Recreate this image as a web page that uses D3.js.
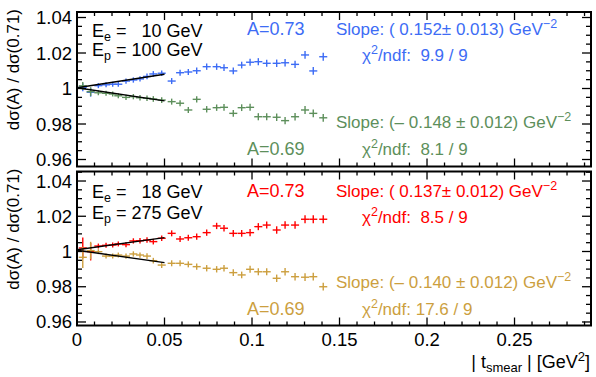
<!DOCTYPE html>
<html><head><meta charset="utf-8">
<script src="https://cdn.jsdelivr.net/npm/d3@7"></script>
<style>
body{margin:0;background:#fff;}
svg{display:block;font-family:"Liberation Sans",Arial,sans-serif;}
text{white-space:pre;}
</style></head>
<body><svg id="c" width="596" height="377"></svg>
<script>
// ---- data ----
const tBins = [0.0033,0.0078,0.0122,0.0166,0.0204,0.0236,0.0280,0.0322,0.0360,0.0400,0.0436,0.0484,0.0541,0.0589,0.0636,0.0684,0.0741,0.0798,0.0840,0.0893,0.0941,0.0989,0.1036,0.1084,0.1141,0.1189,0.1246,0.1303,0.1350,0.1407];
const tErr = 0.0023;
const blueVals  = [1.0007,0.9979,1.0016,1.0021,1.0024,1.0024,1.0042,1.0048,1.0054,1.0068,1.0082,1.0086,1.0042,1.0089,1.0093,1.0100,1.0123,1.0123,1.0117,1.0099,1.0132,1.0148,1.0151,1.0142,1.0142,1.0145,1.0136,1.0189,1.0099,1.0179];
const blueErrs  = [0.0022,0.0025,0.0014,0.0014,0.0014,0.0014,0.0015,0.0015,0.0015,0.0016,0.0016,0.0016,0.0017,0.0017,0.0017,0.0018,0.0018,0.0018,0.0019,0.0019,0.0019,0.0020,0.0020,0.0020,0.0021,0.0021,0.0021,0.0022,0.0022,0.0022];
const greenVals = [1.0015,0.9982,0.9976,0.9973,0.9969,0.9959,0.9950,0.9954,0.9948,0.9945,0.9941,0.9935,0.9926,0.9917,0.9879,0.9939,0.9883,0.9892,0.9894,0.9860,0.9892,0.9894,0.9841,0.9841,0.9838,0.9819,0.9841,0.9879,0.9860,0.9835];
const greenErrs = blueErrs;
const redVals   = [1.0020,0.9999,1.0031,1.0035,1.0037,1.0043,1.0039,1.0060,1.0061,1.0065,1.0056,1.0075,1.0103,1.0071,1.0078,1.0084,1.0107,1.0145,1.0132,1.0103,1.0103,1.0107,1.0141,1.0150,1.0122,1.0150,1.0150,1.0183,1.0183,1.0183];
const redErrs   = [0.0060,0.0050,0.0014,0.0014,0.0014,0.0014,0.0015,0.0015,0.0015,0.0016,0.0016,0.0016,0.0017,0.0017,0.0017,0.0018,0.0018,0.0018,0.0019,0.0019,0.0019,0.0020,0.0020,0.0020,0.0021,0.0021,0.0021,0.0022,0.0022,0.0022];
const goldVals  = [0.9967,1.0005,0.9999,0.9974,0.9974,0.9980,0.9974,0.9986,0.9980,0.9974,0.9948,0.9923,0.9933,0.9933,0.9927,0.9914,0.9905,0.9899,0.9905,0.9880,0.9867,0.9899,0.9885,0.9885,0.9848,0.9885,0.9857,0.9854,0.9857,0.9800];
const goldErrs  = redErrs;
// fits: [intercept, slope], range 0..0.05
const fitRange = [0, 0.05];
const blueFit  = [1.0004, 0.152];
const greenFit = [1.0004, -0.148];
const redFit   = [1.0010, 0.137];
const goldFit  = [1.0007, -0.140];
const xTicks = [0, 0.05, 0.1, 0.15, 0.2, 0.25];
const xTickLabels = ["0","0.05","0.1","0.15","0.2","0.25"];
const yTicks = [0.96, 0.98, 1.0, 1.02, 1.04];
const yTickLabels = ["0.96","0.98","1","1.02","1.04"];

const C = {blue:"#3d6cf5", green:"#5d8f5b", red:"#ff0000", gold:"#cc9f3f"};

const svg = d3.select("#c");
const x = d3.scaleLinear().domain([0, 0.2937]).range([77, 591]);

function panel(top, bottom, yDomain, series, fits, info){
  const y = d3.scaleLinear().domain(yDomain).range([bottom, top]);
  const g = svg.append("g");
  // x ticks
  const xMinor = d3.range(0, 0.2937, 0.01);
  xMinor.forEach((v,i)=>{
    const L = (i%5===0)?8:4;
    const px = x(v);
    g.append("line").attr("x1",px).attr("x2",px).attr("y1",bottom).attr("y2",bottom-L).attr("stroke","#000").attr("stroke-width",1.3);
    g.append("line").attr("x1",px).attr("x2",px).attr("y1",top).attr("y2",top+L).attr("stroke","#000").attr("stroke-width",1.3);
  });
  // y ticks
  const yMinor = d3.range(0.96, yDomain[1], 0.005);
  yMinor.forEach((v,i)=>{
    const L = (i%4===0)?9:5;
    const py = y(v);
    g.append("line").attr("x1",77).attr("x2",77+L).attr("y1",py).attr("y2",py).attr("stroke","#000").attr("stroke-width",1.3);
    g.append("line").attr("x1",591).attr("x2",591-L).attr("y1",py).attr("y2",py).attr("stroke","#000").attr("stroke-width",1.3);
  });
  // frame
  g.append("rect").attr("x",77).attr("y",top).attr("width",591-77).attr("height",bottom-top)
    .attr("fill","none").attr("stroke","#000").attr("stroke-width",2);
  yTicks.forEach((v,i)=>{
    g.append("text").attr("x",72).attr("y",y(v)+6.5).attr("text-anchor","end")
      .attr("font-size",18.5).text(yTickLabels[i]);
  });
  // y title
  g.append("text").attr("transform",`translate(19,${top-3}) rotate(-90)`).attr("text-anchor","end")
    .attr("font-size",17).text("dσ(A) / dσ(0.71)");
  // series
  series.forEach(s=>{
    const sg = g.append("g").attr("stroke",s.color).attr("stroke-width",1.4);
    s.vals.forEach((v,i)=>{
      const t = tBins[i];
      sg.append("line").attr("x1",x(t-tErr)).attr("x2",x(t+tErr)).attr("y1",y(v)).attr("y2",y(v));
      sg.append("line").attr("x1",x(t)).attr("x2",x(t)).attr("y1",y(v-s.errs[i])).attr("y2",y(v+s.errs[i]));
    });
  });
  // fits
  fits.forEach(f=>{
    const line = d3.line().x(d=>x(d)).y(d=>y(f[0]+f[1]*d));
    g.append("path").attr("d",line(fitRange)).attr("fill","none").attr("stroke","#000").attr("stroke-width",1.4);
  });
  // texts
  info.forEach(it=>{
    const t = g.append("text").attr("x",it.x).attr("y",it.y).attr("font-size",it.fs||17).attr("fill",it.c||"#000");
    it.parts.forEach(p=>{
      const ts = t.append("tspan").text(p[0]);
      if (p[1]==="sub"){ ts.attr("dy",4).attr("font-size",12.5); }
      else if (p[1]==="sup"){ ts.attr("dy",-7).attr("font-size",12.5); }
      else if (p[1]==="back"){ ts.attr("dy",p[2]); }
    });
  });
}

panel(12, 166.5, [0.95606, 1.0431],
  [{vals:blueVals, errs:blueErrs, color:C.blue},{vals:greenVals, errs:greenErrs, color:C.green}],
  [blueFit, greenFit],
  [
   {x:92,y:37,fs:18,parts:[["E"],["e","sub"],[" =   10 GeV","back",-4]]},
   {x:92,y:56,fs:18,parts:[["E"],["p","sub"],[" = 100 GeV","back",-4]]},
   {x:247,y:35,fs:18,c:C.blue,parts:[["A=0.73"]]},
   {x:336,y:35,c:C.blue,parts:[["Slope: ( 0.152± 0.013) GeV"],["−2","sup"]]},
   {x:362,y:61,c:C.blue,parts:[["χ"],["2","sup"],["/ndf:  9.9 / 9","back",7]]},
   {x:336,y:128,c:C.green,parts:[["Slope: (– 0.148 ± 0.012) GeV"],["−2","sup"]]},
   {x:247,y:155,fs:18,c:C.green,parts:[["A=0.69"]]},
   {x:362,y:155,c:C.green,parts:[["χ"],["2","sup"],["/ndf:  8.1 / 9","back",7]]}
  ]);

panel(171.5, 325.5, [0.958, 1.0454],
  [{vals:redVals, errs:redErrs, color:C.red},{vals:goldVals, errs:goldErrs, color:C.gold}],
  [redFit, goldFit],
  [
   {x:92,y:198,fs:18,parts:[["E"],["e","sub"],[" =   18 GeV","back",-4]]},
   {x:92,y:219,fs:18,parts:[["E"],["p","sub"],[" = 275 GeV","back",-4]]},
   {x:247,y:197,fs:18,c:C.red,parts:[["A=0.73"]]},
   {x:336,y:197,c:C.red,parts:[["Slope: ( 0.137± 0.012) GeV"],["−2","sup"]]},
   {x:362,y:223,c:C.red,parts:[["χ"],["2","sup"],["/ndf:  8.5 / 9","back",7]]},
   {x:336,y:288,c:C.gold,parts:[["Slope: (– 0.140 ± 0.012) GeV"],["−2","sup"]]},
   {x:247,y:315,fs:18,c:C.gold,parts:[["A=0.69"]]},
   {x:362,y:315,c:C.gold,parts:[["χ"],["2","sup"],["/ndf: 17.6 / 9","back",7]]}
  ]);

// x tick labels
xTicks.forEach((v,i)=>{
  svg.append("text").attr("x",x(v)).attr("y",346).attr("text-anchor","middle").attr("font-size",18.5).text(xTickLabels[i]);
});
// x title
const xt = svg.append("text").attr("x",590).attr("y",368).attr("text-anchor","end").attr("font-size",18);
xt.append("tspan").text("| t");
xt.append("tspan").attr("dy",4).attr("font-size",13).text("smear");
xt.append("tspan").attr("dy",-4).text(" | [GeV");
xt.append("tspan").attr("dy",-7).attr("font-size",13).text("2");
xt.append("tspan").attr("dy",7).text("]");
</script></body></html>
